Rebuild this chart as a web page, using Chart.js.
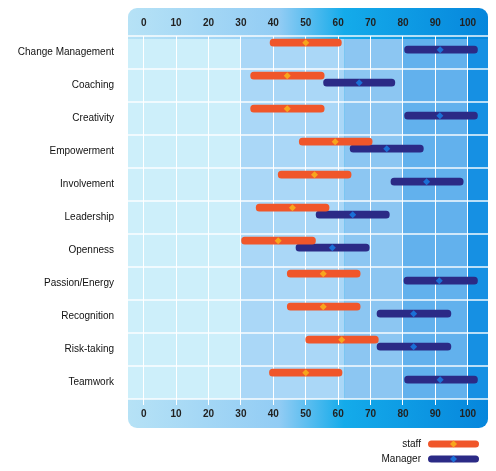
<!DOCTYPE html>
<html lang="en">
<head>
<meta charset="UTF-8">
<title>Staff vs Manager</title>
<script src="https://cdn.jsdelivr.net/npm/chart.js"></script>
<style>
  html, body { margin: 0; padding: 0; background: #fff; }
  #wrap { width: 496px; height: 471px; }
</style>
</head>
<body>
<div id="wrap"><canvas id="chart" width="496" height="471"></canvas></div>
<script>
const categories = ['Change Management', 'Coaching', 'Creativity', 'Empowerment', 'Involvement',
  'Leadership', 'Openness', 'Passion/Energy', 'Recognition', 'Risk-taking', 'Teamwork'];
const tickValues = [0, 10, 20, 30, 40, 50, 60, 70, 80, 90, 100];

const staffLow    = [39, 33, 33, 48, 41.5, 34.7, 30.2, 44.3, 44.3, 50, 38.8];
const staffHigh   = [61, 55.7, 55.7, 70.5, 64, 57.2, 53, 66.8, 66.8, 72.4, 61.2];
const staffMid    = [50, 44.3, 44.3, 59.1, 52.7, 45.9, 41.5, 55.4, 55.4, 61.1, 50];
const managerLow  = [80.5, 55.5, 80.5, 63.7, 76.3, 53.2, 47, 80.3, 72, 72, 80.5];
const managerHigh = [103, 77.5, 103, 86.3, 98.6, 75.8, 69.6, 103, 94.8, 94.8, 103];
const managerMid  = [91.5, 66.5, 91.4, 75, 87.3, 64.5, 58.2, 91.2, 83.3, 83.3, 91.5];

const seriesNames = ['staff', 'Manager'];
const barColors = ['#f0562a', '#2b2a86'];
const dotColors = ['#f7a51e', '#1a6fd6'];
const midValues = [staffMid, managerMid];

// column shading behind the plot (in axis units)
const plotBands = [
  { from: -5, to: 30, color: '#cdeffa' },
  { from: 30, to: 62, color: '#aad7f7' },
  { from: 62, to: 80, color: '#8cc6f2' },
  { from: 80, to: 100, color: '#62b1ed' },
  { from: 100, to: 107, color: '#1690e3' }
];

function toPoints(lo, hi) {
  return lo.map((v, i) => ({ x: [v, hi[i]], y: i }));
}

const panelBg = {
  id: 'panelBg',
  beforeDraw(chart) {
    const { ctx, chartArea: a } = chart;
    const xs = chart.scales.x;
    ctx.save();
    const g = ctx.createLinearGradient(a.left, 0, a.right, 0);
    g.addColorStop(0, '#b6e2f6');
    g.addColorStop(0.42, '#92ccf4');
    g.addColorStop(0.6, '#14abea');
    g.addColorStop(1, '#0686dc');
    ctx.fillStyle = g;
    ctx.beginPath();
    ctx.roundRect(a.left, 8, a.right - a.left, 420, 9);
    ctx.fill();
    ctx.beginPath();
    ctx.rect(a.left, a.top + 3, a.right - a.left, a.bottom - a.top - 3);
    ctx.clip();
    plotBands.forEach(b => {
      const x0 = Math.max(a.left, xs.getPixelForValue(b.from));
      const x1 = Math.min(a.right, xs.getPixelForValue(b.to));
      ctx.fillStyle = b.color;
      ctx.fillRect(x0, a.top, x1 - x0, a.bottom - a.top);
    });
    ctx.restore();
  }
};

const midDots = {
  id: 'midDots',
  afterDatasetsDraw(chart) {
    const { ctx } = chart;
    const xs = chart.scales.x;
    ctx.save();
    midValues.forEach((mids, d) => {
      const meta = chart.getDatasetMeta(d);
      meta.data.forEach((el, i) => {
        const x = xs.getPixelForValue(mids[i]);
        const y = el.y;
        ctx.fillStyle = dotColors[d];
        ctx.beginPath();
        ctx.moveTo(x, y - 3.5);
        ctx.lineTo(x + 3.5, y);
        ctx.lineTo(x, y + 3.5);
        ctx.lineTo(x - 3.5, y);
        ctx.closePath();
        ctx.fill();
      });
    });
    ctx.restore();
  }
};

const sideLegend = {
  id: 'sideLegend',
  afterDraw(chart) {
    const { ctx } = chart;
    ctx.save();
    ctx.font = '10px "Liberation Sans", Arial, sans-serif';
    ctx.textAlign = 'right';
    ctx.textBaseline = 'middle';
    chart.data.datasets.forEach((ds, d) => {
      const y = 444 + d * 15;
      ctx.fillStyle = '#111';
      ctx.fillText(ds.label, 421, y);
      ctx.fillStyle = barColors[d];
      ctx.beginPath();
      ctx.roundRect(428, y - 3.5, 51, 7, 3.5);
      ctx.fill();
      ctx.fillStyle = dotColors[d];
      ctx.beginPath();
      ctx.moveTo(453.5, y - 3.5);
      ctx.lineTo(457, y);
      ctx.lineTo(453.5, y + 3.5);
      ctx.lineTo(450, y);
      ctx.closePath();
      ctx.fill();
    });
    ctx.restore();
  }
};

const tickFont = { family: '"Liberation Sans", Arial, sans-serif', size: 10, weight: 'bold' };

new Chart(document.getElementById('chart'), {
  type: 'bar',
  data: {
    labels: categories,
    datasets: [
      { label: seriesNames[0], data: toPoints(staffLow, staffHigh), backgroundColor: barColors[0], yAxisID: 'yb' },
      { label: seriesNames[1], data: toPoints(managerLow, managerHigh), backgroundColor: barColors[1], yAxisID: 'yb' }
    ]
  },
  plugins: [panelBg, midDots, sideLegend],
  options: {
    indexAxis: 'y',
    responsive: false,
    animation: false,
    devicePixelRatio: 1,
    layout: { padding: { top: 8, right: 8, bottom: 43, left: 0 } },
    datasets: {
      bar: { barThickness: 7, borderRadius: 3.5, borderSkipped: false }
    },
    plugins: { legend: { display: false }, tooltip: { enabled: false } },
    scales: {
      x: {
        type: 'linear', position: 'bottom', min: -4.85, max: 106.25,
        afterBuildTicks: s => { s.ticks = tickValues.map(v => ({ value: v })); },
        afterFit: s => { s.height = 29; },
        border: { display: false },
        grid: { color: '#ffffff', lineWidth: 1, drawTicks: true, tickLength: 6, tickColor: '#ffffff' },
        ticks: { font: tickFont, color: '#222', padding: 3, maxRotation: 0, autoSkip: false }
      },
      x2: {
        type: 'linear', axis: 'x', position: 'top', min: -4.85, max: 106.25,
        afterBuildTicks: s => { s.ticks = tickValues.map(v => ({ value: v })); },
        afterFit: s => { s.height = 28; },
        border: { display: false },
        grid: { display: false, drawTicks: false },
        ticks: { font: tickFont, color: '#222', padding: 7, maxRotation: 0, autoSkip: false }
      },
      y: {
        type: 'category', position: 'left', offset: true,
        afterFit: s => { s.width = 128; },
        border: { display: false },
        grid: { offset: true, color: 'rgba(255,255,255,0.7)', lineWidth: 2, drawTicks: false },
        ticks: { font: { family: '"Liberation Sans", Arial, sans-serif', size: 10 }, color: '#111', padding: 14 }
      },
      yb: {
        type: 'linear', axis: 'y', display: false, reverse: true, offset: false,
        min: -0.309, max: 10.691
      }
    }
  }
});
</script>
</body>
</html>
